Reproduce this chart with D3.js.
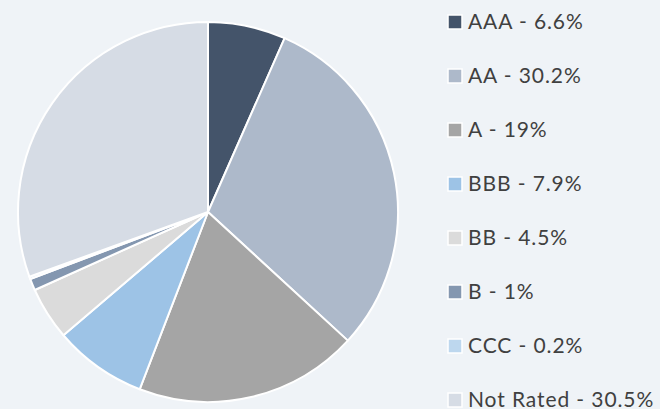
<!DOCTYPE html>
<html><head><meta charset="utf-8">
<script src="https://cdn.jsdelivr.net/npm/d3@7"></script>
<style>html,body{margin:0;padding:0;background:#eff3f7;}svg{display:block;}</style>
</head><body>
<script>
const categories = ["AAA", "AA", "A", "BBB", "BB", "B", "CCC", "Not Rated"];
const values = [6.6, 30.2, 19, 7.9, 4.5, 1, 0.2, 30.5];
const labels = ["AAA - 6.6%", "AA - 30.2%", "A - 19%", "BBB - 7.9%", "BB - 4.5%", "B - 1%", "CCC - 0.2%", "Not Rated - 30.5%"];
const colors = ["#44546a", "#adb9ca", "#a5a5a5", "#9dc3e6", "#dbdbdb", "#8497b0", "#bdd7ee", "#d6dce5"];

const W = 660, H = 409;
const svg = d3.select("body").append("svg").attr("width", W).attr("height", H);
svg.append("rect").attr("width", W).attr("height", H).attr("fill", "#eff3f7");

const data = categories.map((c, i) => ({cat: c, value: values[i], label: labels[i], color: colors[i]}));
const pie = d3.pie().value(d => d.value).sort(null);
const arc = d3.arc().innerRadius(0).outerRadius(190);
const g = svg.append("g").attr("transform", "translate(208,212)");
g.selectAll("path").data(pie(data)).join("path")
  .attr("d", arc).attr("fill", d => d.data.color)
  .attr("stroke", "#ffffff").attr("stroke-width", 2).attr("stroke-linejoin", "round");

const y = d3.scalePoint().domain(categories).range([22, 400]);
const leg = svg.append("g");
const items = leg.selectAll("g").data(data).join("g")
  .attr("transform", d => `translate(448,${y(d.cat)})`);
items.append("rect").attr("x", 0).attr("y", -7).attr("width", 14).attr("height", 14)
  .attr("fill", d => d.color).attr("stroke", "#ffffff").attr("stroke-width", 1.5);
items.append("text").attr("x", 20).attr("y", 7)
  .attr("font-family", "Lato, 'Open Sans', sans-serif").attr("font-size", 21)
  .attr("letter-spacing", 0.9)
  .attr("fill", "#404040").text(d => d.label);
</script>
</body></html>
